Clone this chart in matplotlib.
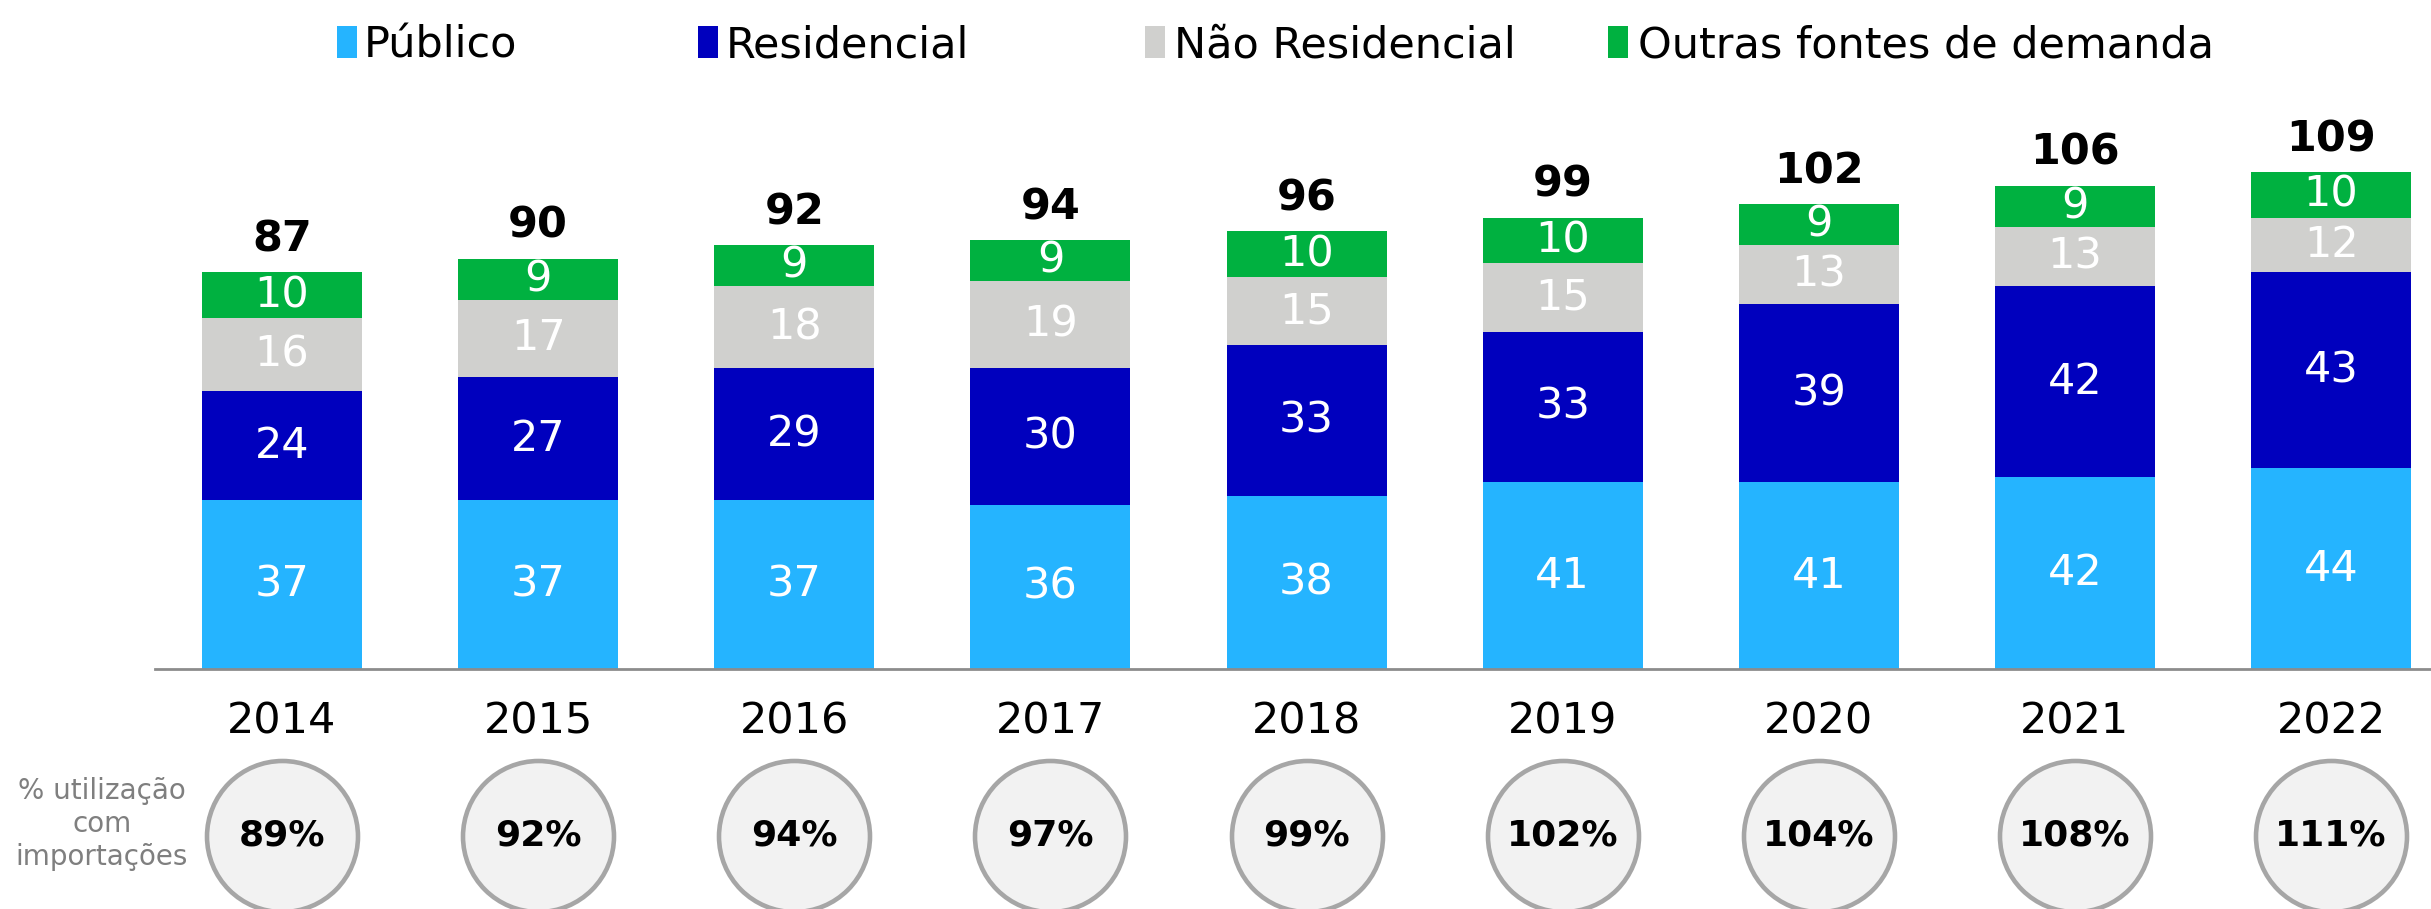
import matplotlib
matplotlib.use("Agg")
import matplotlib.pyplot as plt
from matplotlib.patches import Rectangle
import matplotlib.transforms as mtransforms
import numpy as np

years = ["2014", "2015", "2016", "2017", "2018", "2019", "2020", "2021", "2022"]
publico = [37, 37, 37, 36, 38, 41, 41, 42, 44]
residencial = [24, 27, 29, 30, 33, 33, 39, 42, 43]
nao_residencial = [16, 17, 18, 19, 15, 15, 13, 13, 12]
outras = [10, 9, 9, 9, 10, 10, 9, 9, 10]
totals = [87, 90, 92, 94, 96, 99, 102, 106, 109]
utilizacao = ["89%", "92%", "94%", "97%", "99%", "102%", "104%", "108%", "111%"]

series_names = ["Público", "Residencial", "Não Residencial", "Outras fontes de demanda"]
series_vals = [publico, residencial, nao_residencial, outras]
colors = ["#25B4FF", "#0000BE", "#D0D0CE", "#00B140"]

plt.rcParams['font.family'] = ['DejaVu Sans']

W, H = 2431, 909
fig = plt.figure(figsize=(W / 100, H / 100), dpi=100)
base_px = 669
ax = fig.add_axes([155 / W, (H - base_px) / H, 1 - 155 / W, base_px / H])

x = np.arange(len(years))
bottom = np.zeros(len(years))
for name, vals, c in zip(series_names, series_vals, colors):
    vals = np.array(vals, dtype=float)
    ax.bar(x, vals, width=0.625, bottom=bottom, color=c, label=name, zorder=2)
    for xi, b, v in zip(x, bottom, vals):
        ax.text(xi, b + v / 2, f"{int(v)}", ha="center", va="center",
                color="white", fontsize=31)
    bottom += vals

for xi, b, t in zip(x, bottom, totals):
    ax.annotate(f"{t}", (xi, b), xytext=(0, 8.5), textcoords="offset points",
                ha="center", va="bottom", fontsize=31, fontweight="bold", color="black")

ax.set_xlim(-0.496, 8.39)
ax.set_ylim(0, base_px / 4.56)
ax.set_xticks(x)
ax.set_xticklabels(years, fontsize=31)
ax.tick_params(axis="x", length=0, pad=23)
ax.set_yticks([])
for s in ["top", "right", "left"]:
    ax.spines[s].set_visible(False)
ax.spines["bottom"].set_color("#8C8C8C")
ax.spines["bottom"].set_linewidth(2)

# circles with utilization
trans = mtransforms.blended_transform_factory(ax.transData, fig.transFigure)
cy = 1 - 836 / H
d_pt = 151 * 72 / 100
ax.scatter(x, [cy] * len(x), s=d_pt ** 2, marker="o", facecolor="#F2F2F2",
           edgecolor="#A6A6A6", linewidth=3.3, transform=trans, clip_on=False, zorder=3)
for xi, u in zip(x, utilizacao):
    ax.text(xi, cy, u, transform=trans, ha="center", va="center",
            fontsize=26, fontweight="bold", color="black", zorder=4)

fig.text(102 / W, 1 - 824 / H, "% utilização\ncom\nimportações", ha="center", va="center",
         fontsize=20, color="#7F7F7F", linespacing=1.22)

# legend
leg_sq_x = [337, 698, 1145, 1608]
leg_tx_x = [364, 726, 1174, 1638]
baseline = 58
for sx, tx, name, c in zip(leg_sq_x, leg_tx_x, series_names, colors):
    fig.patches.append(Rectangle((sx / W, 1 - baseline / H), 20 / W, 32 / H,
                                 transform=fig.transFigure, facecolor=c, edgecolor="none"))
    fig.text(tx / W, 1 - baseline / H, name, ha="left", va="baseline",
             fontsize=31, color="black")

fig.savefig("out.png", dpi=100)
